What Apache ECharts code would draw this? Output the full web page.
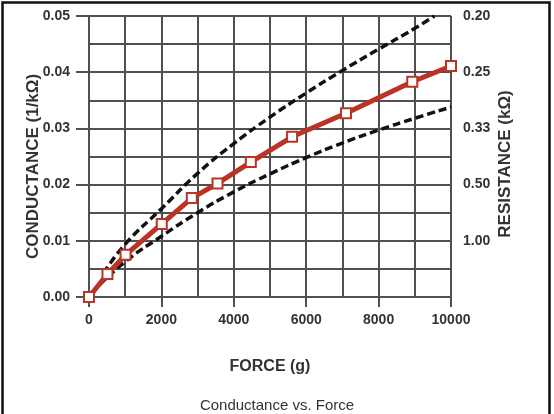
<!DOCTYPE html>
<html>
<head>
<meta charset="utf-8">
<script src="https://cdn.jsdelivr.net/npm/echarts@6/dist/echarts.min.js"></script>
<style>
html,body{margin:0;padding:0;background:#fff;}
#c{width:554px;height:414px;}
</style>
</head>
<body>
<div id="c"></div>
<script>
// ---- data ----
var forceMeasured = [0, 510, 1010, 2010, 2840, 3550, 4470, 5610, 7100, 8930, 10000];
var conductanceMeasured = [0, 0.0041, 0.0075, 0.0130, 0.0176, 0.0202, 0.0240, 0.0285, 0.0327, 0.0383, 0.0411];

var forceUpper = [400, 1000, 2000, 3000, 4000, 5000, 6000, 7000, 8000, 9000, 9540];
var conductanceUpper = [0.0042, 0.0094, 0.0157, 0.0220, 0.0273, 0.0320, 0.0363, 0.0403, 0.0441, 0.0478, 0.0500];

var forceLower = [300, 1000, 2000, 3000, 4000, 5000, 6000, 7000, 8000, 9000, 10000];
var conductanceLower = [0.0022, 0.0063, 0.0108, 0.0150, 0.0187, 0.0219, 0.0248, 0.0274, 0.0297, 0.0318, 0.0338];

var forceTicks = [0, 2000, 4000, 6000, 8000, 10000];
var conductanceTicks = [0, 0.01, 0.02, 0.03, 0.04, 0.05];
var resistanceTickPositions = [0.01, 0.02, 0.03, 0.04, 0.05];
var resistanceTickLabels = ['1.00', '0.50', '0.33', '0.25', '0.20'];

function pairs(xs, ys) { return xs.map(function (x, i) { return [x, ys[i]]; }); }

var FONT = '"Liberation Sans", Arial, sans-serif';
var GRIDC = '#505050';
var TXT = '#333333';
var RED = '#bb3327';

var chart = echarts.init(document.getElementById('c'), null, {renderer: 'canvas'});
chart.setOption({
  animation: false,
  backgroundColor: '#ffffff',
  title: {
    text: 'Conductance vs. Force',
    left: 'center',
    top: 393,
    textStyle: {fontFamily: FONT, fontSize: 15, fontWeight: 'normal', color: TXT}
  },
  grid: {left: 89, right: 103, top: 16, bottom: 117, containLabel: false},
  xAxis: [{
    type: 'value', min: 0, max: 10000, interval: 2000,
    name: 'FORCE (g)', nameLocation: 'middle', nameGap: 62, nameMoveOverlap: false,
    nameTextStyle: {fontFamily: FONT, fontSize: 16, fontWeight: 'bold', color: TXT},
    axisLine: {show: true, onZero: false, lineStyle: {color: GRIDC, width: 2}},
    axisTick: {show: true, length: 10, customValues: forceTicks, lineStyle: {color: GRIDC, width: 2}},
    axisLabel: {customValues: forceTicks, margin: 16, fontFamily: FONT, fontSize: 14, fontWeight: 'bold', color: TXT,
      formatter: function (v) { return String(Math.round(v)); }},
    splitLine: {show: false}
  }, {
    // grid helper axis: vertical lines every 1000 g
    type: 'value', min: 0, max: 10000, interval: 1000, position: 'top',
    axisLine: {show: false}, axisTick: {show: false}, axisLabel: {show: false},
    splitLine: {show: true, lineStyle: {color: GRIDC, width: 2}}
  }],
  yAxis: [{
    type: 'value', min: 0, max: 0.05, interval: 0.01, position: 'left',
    name: 'CONDUCTANCE (1/kΩ)', nameLocation: 'middle', nameGap: 47, nameRotate: 90, nameMoveOverlap: false,
    nameTextStyle: {fontFamily: FONT, fontSize: 17, fontWeight: 'bold', color: TXT, padding: [0, 20, 0, 0]},
    axisLine: {show: true, lineStyle: {color: GRIDC, width: 2}},
    axisTick: {show: true, length: 13, customValues: conductanceTicks, lineStyle: {color: GRIDC, width: 2}},
    axisLabel: {customValues: conductanceTicks, margin: 19, fontFamily: FONT, fontSize: 14, fontWeight: 'bold', color: TXT,
      formatter: function (v) { return v.toFixed(2); }},
    splitLine: {show: false}
  }, {
    type: 'value', min: 0, max: 0.05, interval: 0.01, position: 'right',
    name: 'RESISTANCE (kΩ)', nameLocation: 'middle', nameGap: 46, nameRotate: 90, nameMoveOverlap: false,
    nameTextStyle: {fontFamily: FONT, fontSize: 17, fontWeight: 'bold', color: TXT, padding: [0, 15, 0, 0]},
    axisLine: {show: true, lineStyle: {color: GRIDC, width: 2}},
    axisTick: {show: true, length: 11, customValues: resistanceTickPositions, lineStyle: {color: GRIDC, width: 2}},
    axisLabel: {customValues: resistanceTickPositions, margin: 12, fontFamily: FONT, fontSize: 14, fontWeight: 'bold', color: TXT,
      formatter: function (v) {
        for (var i = 0; i < resistanceTickPositions.length; i++) {
          if (Math.abs(resistanceTickPositions[i] - v) < 1e-6) return resistanceTickLabels[i];
        }
        return '';
      }},
    splitLine: {show: false}
  }, {
    // grid helper axis: horizontal lines every 0.005
    type: 'value', min: 0, max: 0.05, interval: 0.005, position: 'left',
    axisLine: {show: false}, axisTick: {show: false}, axisLabel: {show: false},
    splitLine: {show: true, lineStyle: {color: GRIDC, width: 2}}
  }],
  series: [{
    type: 'line', name: 'upper', data: pairs(forceUpper, conductanceUpper),
    xAxisIndex: 0, yAxisIndex: 0,
    showSymbol: false, symbol: 'none', smooth: true, z: 3,
    lineStyle: {color: '#111111', width: 3.5, type: [8, 4]}
  }, {
    type: 'line', name: 'lower', data: pairs(forceLower, conductanceLower),
    xAxisIndex: 0, yAxisIndex: 0,
    showSymbol: false, symbol: 'none', smooth: true, z: 3,
    lineStyle: {color: '#111111', width: 3.5, type: [8, 4]}
  }, {
    type: 'line', name: 'measured', data: pairs(forceMeasured, conductanceMeasured),
    xAxisIndex: 0, yAxisIndex: 0,
    symbol: 'rect', symbolSize: 10, showSymbol: true, z: 5,
    lineStyle: {color: RED, width: 5},
    itemStyle: {color: '#ffffff', borderColor: RED, borderWidth: 2}
  }],
  graphic: [{
    type: 'rect', left: 0, top: 0, z: 100, silent: true,
    shape: {x: 1.25, y: 1.25, width: 547, height: 430},
    style: {fill: 'none', stroke: '#111111', lineWidth: 2.5}
  }]
});
</script>
</body>
</html>
